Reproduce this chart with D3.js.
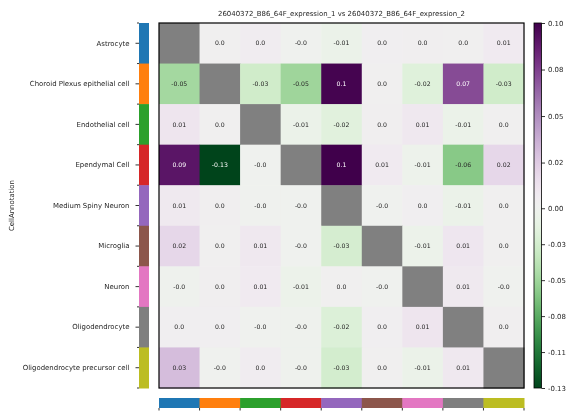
<!DOCTYPE html>
<html>
<head>
<meta charset="utf-8">
<script src="https://cdn.jsdelivr.net/npm/d3@7"></script>
<style>
  body { margin: 0; background: #fff; }
  svg { will-change: transform; }
  text { font-family: "DejaVu Sans", sans-serif; fill: #262626; text-rendering: geometricPrecision; }
</style>
</head>
<body>
<div id="chart"></div>
<script>
var title = "26040372_B86_64F_expression_1 vs 26040372_B86_64F_expression_2";
var yLabel = "CellAnnotation";

var cellTypes = ["Astrocyte", "Choroid Plexus epithelial cell", "Endothelial cell", "Ependymal Cell",
  "Medium Spiny Neuron", "Microglia", "Neuron", "Oligodendrocyte", "Oligodendrocyte precursor cell"];

var typeColors = ["#1f77b4", "#ff7f0e", "#2ca02c", "#d62728", "#9467bd",
  "#8c564b", "#e377c2", "#7f7f7f", "#bcbd22"];

// rows = first sample, cols = second sample; diagonal is empty (null)
var row0 = [null, 0.001, 0.004, -0.002, -0.008, 0.003, 0.002, 0.001, 0.006];
var row1 = [-0.052, null, -0.030, -0.054, 0.100, 0.001, -0.020, 0.072, -0.030];
var row2 = [0.010, 0.001, null, -0.008, -0.018, 0.002, 0.008, -0.008, 0.001];
var row3 = [0.092, -0.132, -0.001, null, 0.102, 0.006, -0.006, -0.063, 0.018];
var row4 = [0.007, 0.002, -0.001, -0.002, null, -0.002, 0.003, -0.008, 0.001];
var row5 = [0.018, 0.001, 0.008, -0.002, -0.027, null, -0.007, 0.009, 0.001];
var row6 = [-0.003, 0.002, 0.006, -0.007, 0.001, -0.002, null, 0.007, -0.002];
var row7 = [0.003, 0.003, -0.002, -0.003, -0.022, 0.003, 0.010, null, 0.002];
var row8 = [0.030, -0.001, 0.004, -0.003, -0.028, 0.001, -0.008, 0.008, null];
var matrix = [row0, row1, row2, row3, row4, row5, row6, row7, row8];

var width = 579, height = 418;
var hm = {left: 159, top: 23, size: 365};

var svg = d3.select("#chart").append("svg")
    .attr("width", width)
    .attr("height", height);

svg.append("rect")
    .attr("width", width)
    .attr("height", height)
    .attr("fill", "#fff");

var cells = [];
matrix.forEach(function(r, i) {
  r.forEach(function(v, j) { cells.push({row: i, col: j, value: v}); });
});

var allVals = cells.filter(function(d) { return d.value !== null; }).map(function(d) { return d.value; });
var vmin = d3.min(allVals), vmax = d3.max(allVals);

// two slope norm centred on zero, PRGn reversed (green low, purple high)
var norm = d3.scaleLinear().domain([vmin, 0, vmax]).range([1, 0.5, 0]).clamp(true);
var color = function(v) { return d3.interpolatePRGn(norm(v)); };

var x = d3.scaleBand().domain(d3.range(cellTypes.length)).range([hm.left, hm.left + hm.size]);
var y = d3.scaleBand().domain(d3.range(cellTypes.length)).range([hm.top, hm.top + hm.size]);

function lum(c) {
  var rgb = d3.rgb(c);
  var ch = [rgb.r, rgb.g, rgb.b].map(function(u) {
    u = u / 255;
    return u <= 0.03928 ? u / 12.92 : Math.pow((u + 0.055) / 1.055, 2.4);
  });
  return 0.2126 * ch[0] + 0.7152 * ch[1] + 0.0722 * ch[2];
}

function fmt(v) {
  var r = Math.round(v * 100) / 100;
  if (r === 0) return v < 0 ? "-0.0" : "0.0";
  return String(r);
}

// heatmap cells
var cell = svg.append("g").selectAll("g")
    .data(cells)
  .enter().append("g");

cell.append("rect")
    .attr("x", function(d) { return x(d.col); })
    .attr("y", function(d) { return y(d.row); })
    .attr("width", x.bandwidth() + 0.5)
    .attr("height", y.bandwidth() + 0.5)
    .attr("fill", function(d) { return d.value === null ? "#808080" : color(d.value); });

cell.filter(function(d) { return d.value !== null; }).append("text")
    .attr("x", function(d) { return x(d.col) + x.bandwidth() / 2; })
    .attr("y", function(d) { return y(d.row) + y.bandwidth() / 2; })
    .attr("dy", "0.35em")
    .attr("text-anchor", "middle")
    .style("font-size", "6.2px")
    .style("fill", function(d) { return lum(color(d.value)) > 0.408 ? "#262626" : "#ffffff"; })
    .text(function(d) { return fmt(d.value); });

svg.append("rect")
    .attr("x", hm.left)
    .attr("y", hm.top)
    .attr("width", hm.size)
    .attr("height", hm.size)
    .attr("fill", "none")
    .attr("stroke", "#000")
    .attr("stroke-width", 1.2);

// row colour strip
var stripX = 139, stripW = 10;
svg.append("g").selectAll("rect")
    .data(cellTypes)
  .enter().append("rect")
    .attr("x", stripX)
    .attr("y", function(d, i) { return y(i); })
    .attr("width", stripW)
    .attr("height", y.bandwidth() + 0.5)
    .attr("fill", function(d, i) { return typeColors[i]; });

var yAxis = d3.axisLeft(d3.scaleBand().domain(cellTypes).range([hm.top, hm.top + hm.size]))
    .tickSize(3.5)
    .tickPadding(6);

var yAxisG = svg.append("g")
    .attr("transform", "translate(" + stripX + ",0)")
    .call(yAxis);
yAxisG.select(".domain").remove();
yAxisG.selectAll("line").attr("stroke", "#000").attr("stroke-width", 0.8);
yAxisG.selectAll("text")
    .style("font-family", "DejaVu Sans")
    .style("font-size", "6.94px")
    .attr("fill", "#262626");

// boundary ticks on the row strip
svg.append("g").selectAll("line")
    .data(d3.range(cellTypes.length + 1))
  .enter().append("line")
    .attr("x1", stripX - 2)
    .attr("x2", stripX)
    .attr("y1", function(d) { return hm.top + d * y.step(); })
    .attr("y2", function(d) { return hm.top + d * y.step(); })
    .attr("stroke", "#000")
    .attr("stroke-width", 0.8);

// column colour strip
var stripY = 398;
svg.append("g").selectAll("rect")
    .data(cellTypes)
  .enter().append("rect")
    .attr("x", function(d, i) { return x(i); })
    .attr("y", stripY)
    .attr("width", x.bandwidth() + 0.5)
    .attr("height", stripW)
    .attr("fill", function(d, i) { return typeColors[i]; });

svg.append("g").selectAll("line")
    .data(d3.range(cellTypes.length + 1))
  .enter().append("line")
    .attr("x1", function(d) { return hm.left + d * x.step(); })
    .attr("x2", function(d) { return hm.left + d * x.step(); })
    .attr("y1", stripY + stripW)
    .attr("y2", stripY + stripW + 2.5)
    .attr("stroke", "#000")
    .attr("stroke-width", 0.8);

// y label
svg.append("text")
    .attr("transform", "translate(14," + (hm.top + hm.size / 2) + ") rotate(-90)")
    .attr("text-anchor", "middle")
    .style("font-size", "6.94px")
    .text(yLabel);

// title
svg.append("text")
    .attr("x", hm.left + hm.size / 2)
    .attr("y", 16)
    .attr("text-anchor", "middle")
    .style("font-size", "6.94px")
    .text(title);

// colorbar
var cb = {x: 534, w: 7.5};
var cbY = d3.scaleLinear().domain([vmin, 0, vmax]).range([hm.top + hm.size, hm.top + hm.size / 2, hm.top]);

var grad = svg.append("defs").append("linearGradient")
    .attr("id", "cbgrad")
    .attr("x1", 0).attr("y1", 1).attr("x2", 0).attr("y2", 0);
d3.range(0, 1.0001, 0.01).forEach(function(t) {
  var v = cbY.invert(hm.top + hm.size - t * hm.size);
  grad.append("stop").attr("offset", t).attr("stop-color", color(v));
});

svg.append("rect")
    .attr("x", cb.x)
    .attr("y", hm.top)
    .attr("width", cb.w)
    .attr("height", hm.size)
    .attr("fill", "url(#cbgrad)")
    .attr("stroke", "#000")
    .attr("stroke-width", 0.8);

var cbTicks = d3.range(10).map(function(i) { return vmin + i * (vmax - vmin) / 9; });
var cbAxis = d3.axisRight(cbY)
    .tickValues(cbTicks)
    .tickSize(3.5)
    .tickPadding(3)
    .tickFormat(d3.format(".2f"));

var cbG = svg.append("g")
    .attr("transform", "translate(" + (cb.x + cb.w) + ",0)")
    .call(cbAxis);
cbG.select(".domain").remove();
cbG.selectAll("line").attr("stroke", "#000").attr("stroke-width", 0.8);
cbG.selectAll("text")
    .style("font-family", "DejaVu Sans")
    .style("font-size", "6.94px")
    .attr("fill", "#262626")
    .text(function(d) { var s = d3.format(".2f")(d); return s.replace("−", "-"); });
</script>
</body>
</html>
